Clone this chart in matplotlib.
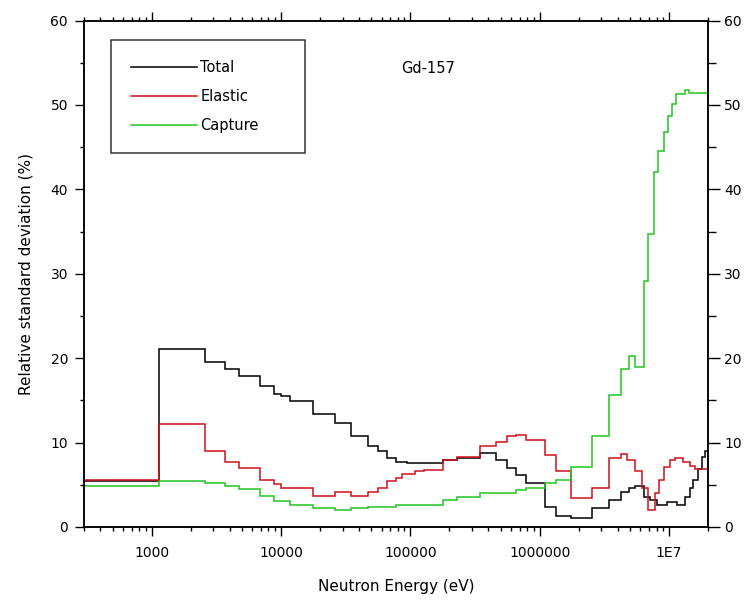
import numpy as np
import matplotlib
matplotlib.use('Agg')
import matplotlib.pyplot as plt
from matplotlib.ticker import LogLocator, NullFormatter, FixedLocator, MultipleLocator
from matplotlib.lines import Line2D

plt.rcParams['font.family'] = 'DejaVu Sans'

# group boundaries (eV) and relative standard deviation (%)
total_edges = [300, 1130, 2600, 3700, 4700, 6900, 8800, 10000, 11700, 17800, 26000,
               35000, 47000, 56000, 66000, 77000, 95000, 180000, 230000, 345000,
               460000, 560000, 660000, 780000, 1.1e6, 1.33e6, 1.75e6, 2.54e6, 3.46e6,
               4.22e6, 4.89e6, 5.5e6, 6.43e6, 7.17e6, 8.05e6, 9.62e6, 1.15e7, 1.33e7,
               1.455e7, 1.54e7, 1.68e7, 1.785e7, 1.9e7, 2.0e7]
total_vals = [5.5, 21.1, 19.55, 18.7, 17.85, 16.75, 15.7, 15.5, 14.9, 13.4, 12.3,
              10.8, 9.6, 8.95, 8.15, 7.75, 7.55, 7.9, 8.2, 8.75, 7.9, 7.0, 6.1, 5.2,
              2.4, 1.3, 1.1, 2.2, 3.2, 4.1, 4.6, 4.8, 3.6, 3.2, 2.6, 3.0, 2.6, 3.6,
              4.6, 5.6, 6.85, 8.3, 8.95]

elastic_edges = [300, 1130, 2600, 3700, 4700, 6900, 8800, 10000, 17800, 26000, 35000,
                 47000, 56000, 66000, 77000, 86000, 109000, 127000, 180000, 230000,
                 345000, 460000, 560000, 660000, 780000, 1.1e6, 1.33e6, 1.75e6, 2.54e6,
                 3.46e6, 4.22e6, 4.75e6, 5.5e6, 6.18e6, 6.88e6, 7.83e6, 8.3e6, 9.07e6,
                 1.02e7, 1.116e7, 1.29e7, 1.455e7, 1.59e7, 2.0e7]
elastic_vals = [5.6, 12.2, 9.05, 7.75, 7.0, 5.6, 5.1, 4.6, 3.7, 4.1, 3.7, 4.1, 4.6,
                5.4, 5.8, 6.3, 6.65, 6.75, 7.9, 8.25, 9.65, 10.1, 10.8, 10.95, 10.35,
                8.55, 6.65, 3.4, 4.6, 8.2, 8.6, 7.95, 6.65, 4.6, 1.95, 4.0, 5.6, 7.1,
                7.95, 8.15, 7.75, 7.25, 6.85]

capture_edges = [300, 1130, 2600, 3700, 4700, 6900, 8800, 11700, 17800, 26000, 35000,
                 47000, 77000, 180000, 230000, 345000, 660000, 780000, 1.1e6, 1.33e6,
                 1.75e6, 2.54e6, 3.46e6, 4.22e6, 4.89e6, 5.5e6, 6.43e6, 6.88e6, 7.6e6,
                 8.2e6, 9.07e6, 9.74e6, 1.05e7, 1.13e7, 1.33e7, 1.43e7, 2.0e7]
capture_vals = [4.85, 5.4, 5.2, 4.8, 4.5, 3.7, 3.1, 2.65, 2.3, 1.95, 2.2, 2.4, 2.55,
                3.2, 3.6, 4.0, 4.4, 4.6, 5.25, 5.6, 7.1, 10.8, 15.6, 18.7, 20.25, 18.9,
                29.2, 34.7, 42.0, 44.6, 46.8, 48.65, 50.1, 51.25, 51.8, 51.45]

series_names = ['Total', 'Elastic', 'Capture']
series_colors = ['black', '#d0101c', '#22c322']

xtick_vals = [1e3, 1e4, 1e5, 1e6, 1e7]
xtick_labels = ['1000', '10000', '100000', '1000000', '1E7']

fig = plt.figure(figsize=(7.5, 6.05), dpi=100)
ax = fig.add_axes([0.112, 0.129, 0.832, 0.837])

data = [(total_edges, total_vals), (elastic_edges, elastic_vals), (capture_edges, capture_vals)]
for (edges, vals), col in zip(data, series_colors):
    ax.stairs(vals, edges, color=col, lw=1.1, baseline=None)

ax.set_xscale('log')
ax.set_xlim(300, 2e7)
ax.set_ylim(0, 60)
ax.xaxis.set_major_locator(FixedLocator(xtick_vals))
ax.set_xticklabels(xtick_labels)
ax.xaxis.set_minor_locator(LogLocator(base=10, subs=np.arange(2, 10), numticks=20))
ax.xaxis.set_minor_formatter(NullFormatter())
ax.yaxis.set_major_locator(MultipleLocator(10))
ax.yaxis.set_minor_locator(MultipleLocator(5))

for sp in ax.spines.values():
    sp.set_linewidth(1.1)

ax.tick_params(axis='x', which='major', direction='out', length=6.5, width=1.0,
               top=True, labelsize=10, pad=7)
ax.tick_params(axis='x', which='minor', direction='out', length=3, width=1.0, top=True)
ax.tick_params(axis='y', which='major', direction='out', length=6.5, width=1.0,
               labelsize=10, pad=5)
ax.tick_params(axis='y', which='minor', direction='out', length=3, width=1.0)

ax2 = ax.twinx()
ax2.set_ylim(0, 60)
ax2.yaxis.set_major_locator(MultipleLocator(10))
ax2.yaxis.set_minor_locator(MultipleLocator(5))
ax2.tick_params(axis='y', which='major', direction='out', length=8.6, width=1.0,
                labelsize=10, pad=3)
ax2.tick_params(axis='y', which='minor', direction='out', length=5.8, width=1.0)
for sp in ax2.spines.values():
    sp.set_linewidth(1.1)

ax.set_xlabel('Neutron Energy (eV)', fontsize=11, labelpad=14)
ax.set_ylabel('Relative standard deviation (%)', fontsize=11, labelpad=12)

handles = [Line2D([], [], color=c, lw=1.1) for c in series_colors]
leg = ax.legend(handles, series_names, loc='upper left',
                bbox_to_anchor=(0.0438, 0.70, 0.311, 0.261), mode='expand',
                fontsize=10.5, handlelength=4.5, handletextpad=0.25,
                labelspacing=0.97, borderpad=1.35, fancybox=False, frameon=True,
                borderaxespad=0)
leg.get_frame().set_edgecolor('black')
leg.get_frame().set_linewidth(1.1)

ax.text(0.551, 0.905, 'Gd-157', transform=ax.transAxes, ha='center', va='center',
        fontsize=10.5)

fig.savefig('out.png', dpi=100)
